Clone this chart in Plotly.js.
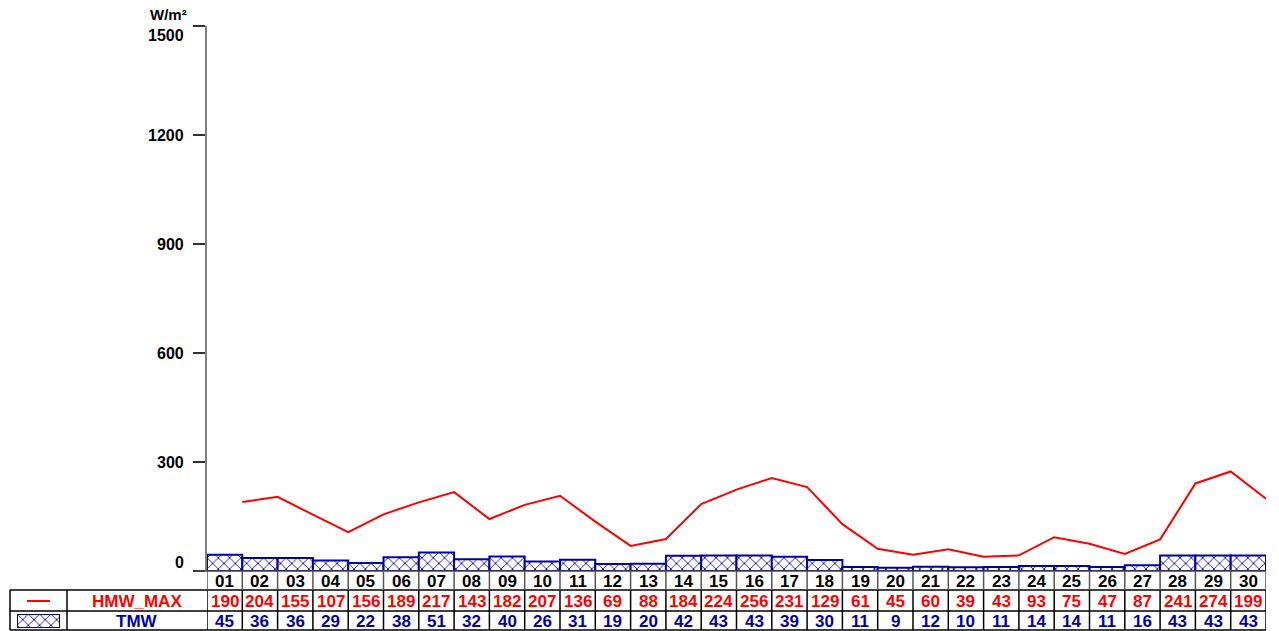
<!DOCTYPE html>
<html>
<head>
<meta charset="utf-8">
<script src="https://cdn.plot.ly/plotly-3.0.1.min.js"></script>
<style>html,body{margin:0;padding:0;background:#fff;}#chart{width:1279px;height:631px;}</style>
</head>
<body>
<div id="chart"></div>
<script>
const days = ['01','02','03','04','05','06','07','08','09','10','11','12','13','14','15','16','17','18','19','20','21','22','23','24','25','26','27','28','29','30'];
const hmwMax = [190,204,155,107,156,189,217,143,182,207,136,69,88,184,224,256,231,129,61,45,60,39,43,93,75,47,87,241,274,199];
const tmw = [45,36,36,29,22,38,51,32,40,26,31,19,20,42,43,43,39,30,11,9,12,10,11,14,14,11,16,43,43,43];
const yTicks = [0,300,600,900,1200,1500];
const seriesNames = ['HMW_MAX','TMW'];
const unitLabel = 'W/m²';

const W = 1279, H = 631;
const px = x => x / W;
const py = y => (H - y) / H;
const RED = '#ff0000', BLUE = '#0000a8';
const FONT = 'Arial, "Liberation Sans", sans-serif';
const pattern = {shape: 'x', fgcolor: BLUE, fgopacity: 1, bgcolor: '#ffffff', size: 8, solidity: 0.2, fillmode: 'replace'};

const xs = days.map((d, i) => i + 1);
const xsLine = days.map((d, i) => i + 1.5);

const traces = [
  {type: 'bar', x: xs, y: tmw, width: 1, name: seriesNames[1],
   marker: {color: '#ffffff', pattern: pattern, line: {color: BLUE, width: 2}},
   hoverinfo: 'skip'},
  {type: 'scatter', mode: 'lines', x: xsLine, y: hmwMax, name: seriesNames[0],
   line: {color: RED, width: 2}, cliponaxis: false, hoverinfo: 'skip'},
  // legend symbol for TMW in the table's left cell
  {type: 'bar', x: [0], y: [1], width: 1, xaxis: 'x2', yaxis: 'y2',
   marker: {color: '#ffffff', pattern: pattern, line: {color: BLUE, width: 2}},
   hoverinfo: 'skip'}
];

const shapes = [];
const annotations = [];
const rowTop = 571, row1 = 590, row2 = 611, rowBot = 630;
const yHdr = 581, yR1 = 601, yR2 = 621;

// horizontal table lines
[row1, row2, rowBot].forEach(y => shapes.push({type: 'line', xref: 'paper', yref: 'paper',
  x0: px(10), x1: px(1266), y0: py(y), y1: py(y), line: {color: '#000', width: 1.5}}));
// x-axis baseline
shapes.push({type: 'line', xref: 'paper', yref: 'paper', x0: px(195), x1: px(1266),
  y0: py(rowTop), y1: py(rowTop), line: {color: '#444', width: 1.5}});
// vertical lines at day boundaries
for (let i = 0; i <= days.length; i++) {
  shapes.push({type: 'line', xref: 'x', yref: 'paper', x0: i + 0.5, x1: i + 0.5,
    y0: py(rowTop), y1: py(row1), line: {color: '#555', width: 1.5}});
  shapes.push({type: 'line', xref: 'x', yref: 'paper', x0: i + 0.5, x1: i + 0.5,
    y0: py(row1), y1: py(rowBot), line: {color: '#000', width: 1.5}});
}
// legend cell dividers
[10, 67].forEach(x => shapes.push({type: 'line', xref: 'paper', yref: 'paper',
  x0: px(x), x1: px(x), y0: py(row1), y1: py(rowBot), line: {color: '#000', width: 1.5}}));
// red line legend symbol
shapes.push({type: 'line', xref: 'paper', yref: 'paper', x0: px(27), x1: px(50),
  y0: py(yR1), y1: py(yR1), line: {color: RED, width: 2}});

const txt = (x, y, text, color, xref, opts) => Object.assign({
  x: x, y: y, xref: xref, yref: 'paper', text: text, showarrow: false,
  xanchor: 'center', yanchor: 'middle',
  font: {family: FONT, size: 17, color: color, weight: 700}}, opts || {});

days.forEach((d, i) => {
  annotations.push(txt(i + 1, py(yHdr), d, '#000', 'x'));
  annotations.push(txt(i + 1, py(yR1), String(hmwMax[i]), RED, 'x'));
  annotations.push(txt(i + 1, py(yR2), String(tmw[i]), BLUE, 'x'));
});
annotations.push(txt(px(137), py(yR1), seriesNames[0], RED, 'paper'));
annotations.push(txt(px(137), py(yR2), seriesNames[1], BLUE, 'paper'));

// y tick labels
yTicks.forEach((v, i) => {
  let shift = 0;
  if (i === 0) shift = 9;
  if (i === yTicks.length - 1) shift = -9;
  annotations.push({x: px(186), y: v, xref: 'paper', yref: 'y', text: String(v), showarrow: false,
    xanchor: 'right', yanchor: 'middle', yshift: shift,
    font: {family: FONT, size: 16, color: '#000', weight: 700}});
});
annotations.push({x: px(189), y: py(15), xref: 'paper', yref: 'paper', text: unitLabel, showarrow: false,
  xanchor: 'right', yanchor: 'middle', font: {family: FONT, size: 15, color: '#000', weight: 700}});

const layout = {
  width: W, height: H,
  margin: {l: 0, r: 0, t: 0, b: 0, pad: 0},
  paper_bgcolor: '#fff', plot_bgcolor: '#fff',
  showlegend: false,
  bargap: 0,
  xaxis: {domain: [px(207), px(1266)], range: [0.5, days.length + 0.5], showgrid: false,
    zeroline: false, showline: false, showticklabels: false, ticks: '', fixedrange: true},
  yaxis: {domain: [py(571), py(26)], range: [0, 1500], showgrid: false, zeroline: false,
    showline: true, linecolor: '#808080', linewidth: 2, ticks: 'outside', ticklen: 12,
    tickwidth: 1.5, tickcolor: '#333', tickvals: yTicks, showticklabels: false, fixedrange: true},
  xaxis2: {domain: [px(17), px(60)], range: [-0.5, 0.5], visible: false, anchor: 'y2'},
  yaxis2: {domain: [py(628), py(614)], range: [0, 1], visible: false, anchor: 'x2'},
  shapes: shapes,
  annotations: annotations
};

Plotly.newPlot('chart', traces, layout, {staticPlot: true, displayModeBar: false});
</script>
</body>
</html>
